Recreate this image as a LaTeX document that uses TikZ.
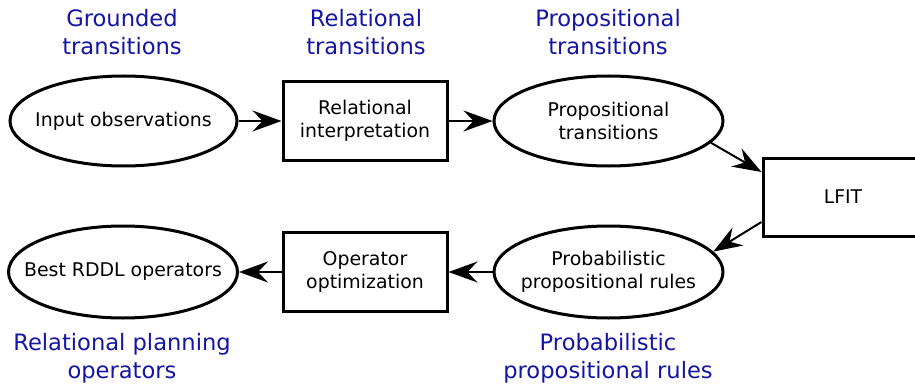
\documentclass[tikz,border=0pt]{standalone}
\usepackage{fontspec}
\setmainfont{DejaVu Sans}
\usetikzlibrary{shapes.geometric,arrows.meta}
\definecolor{lblue}{RGB}{20,20,165}
\begin{document}
\begin{tikzpicture}[x=1pt,y=-1pt,
  ell/.style={draw,line width=3pt,ellipse,inner xsep=-40pt,inner ysep=-15pt,minimum width=227pt,minimum height=90pt,align=center,font=\fontsize{18.9}{23}\selectfont},
  rbox/.style={draw,line width=3pt,rectangle,inner sep=0pt,minimum width=164pt,minimum height=78pt,align=center,font=\fontsize{18.9}{23}\selectfont},
  lbl/.style={text=lblue,align=center,font=\fontsize{22.6}{28}\selectfont},
  arr/.style={line width=2pt,-{Stealth[length=29pt,width=21pt,inset=10pt]}}]
\useasboundingbox (0,0) rectangle (915,385);
\node[ell] (in) at (123.5,121) {Input observations};
\node[rbox] (ri) at (365,121) {Relational\\interpretation};
\node[ell,minimum width=229pt] (pt) at (608.5,121) {Propositional\\transitions};
\node[rbox,minimum width=160pt] (lf) at (843,197) {LFIT};
\node[ell,minimum width=229pt,minimum height=92pt] (pr) at (608.5,272) {Probabilistic\\propositional rules};
\node[rbox,minimum height=79pt] (oo) at (365,272) {Operator\\optimization};
\node[ell,minimum width=229pt,minimum height=92pt] (bo) at (123,272) {Best RDDL operators};
\node[lbl] (l1) at (122,32) {Grounded\\transitions};
\node[lbl] (l2) at (366,32) {Relational\\transitions};
\node[lbl] (l3) at (608,32) {Propositional\\transitions};
\node[lbl] (l4) at (122,358) {Relational planning\\operators};
\node[lbl] (l5) at (608,358) {Probabilistic\\propositional rules};
\draw[arr] (in) -- (ri);
\draw[arr] (ri) -- (pt);
\draw[arr] (pt.-12) -- ([yshift=25pt]lf.west);
\draw[arr] ([yshift=-25pt]lf.west) -- (pr.11);
\draw[arr] (pr) -- (oo);
\draw[arr] (oo) -- (bo);
\end{tikzpicture}
\end{document}
